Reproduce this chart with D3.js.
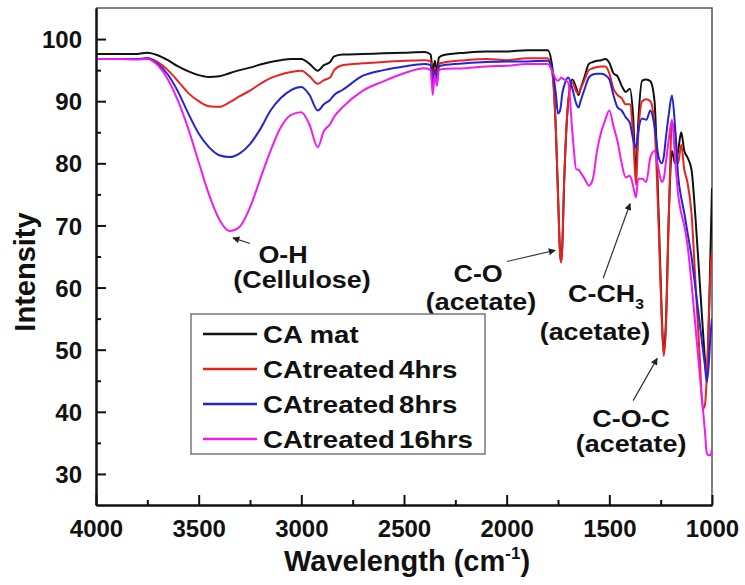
<!DOCTYPE html>
<html>
<head>
<meta charset="utf-8">
<script src="https://cdn.jsdelivr.net/npm/d3@7"></script>
<style>
  body { margin: 0; background: #fff; }
  svg text { font-family: "Liberation Sans", Arial, sans-serif; font-weight: bold; fill: #111; }
</style>
</head>
<body>
<div class="container"></div>
<script>
// FTIR spectra, wavenumber grid shared by all four samples
const wavenumbers = [4000, 3900, 3800, 3750, 3700, 3650, 3600, 3550, 3500, 3450, 3400, 3350, 3300, 3250, 3200, 3150, 3100, 3050, 3000, 2960, 2920, 2890, 2860, 2840, 2800, 2700, 2600, 2500, 2400, 2370, 2360, 2350, 2340, 2330, 2310, 2200, 2100, 2000, 1900, 1800, 1780, 1760, 1750, 1740, 1735, 1730, 1720, 1700, 1680, 1660, 1650, 1640, 1620, 1600, 1580, 1560, 1540, 1520, 1500, 1480, 1460, 1440, 1420, 1400, 1385, 1370, 1360, 1340, 1320, 1300, 1280, 1260, 1245, 1235, 1225, 1210, 1195, 1180, 1165, 1150, 1135, 1120, 1100, 1080, 1060, 1045, 1035, 1025, 1015, 1008, 1000];

const caMat = [97.6, 97.6, 97.6, 97.8, 97.4, 96.6, 95.6, 94.8, 94.2, 93.9, 94.0, 94.5, 95.0, 95.4, 95.9, 96.3, 96.6, 96.8, 96.8, 96.0, 94.9, 95.8, 96.3, 97.2, 97.5, 97.6, 97.7, 97.8, 97.9, 97.5, 94.5, 96.5, 94.8, 97.0, 97.4, 97.8, 98.0, 98.0, 98.2, 98.2, 96, 85, 75, 65.5, 64.2, 66, 77, 90, 93.5, 92, 91, 92, 94, 96, 96.3, 96.5, 96.6, 96.8, 96.2, 94.5, 94, 92.5, 91.5, 92, 88, 78.5, 86, 93.3, 93.5, 93.2, 90, 72, 56, 49.5, 54, 72, 82, 80, 82, 85, 82, 81, 79, 71, 61, 53.5, 48.7, 45.5, 55, 65, 76];

const caTreated4 = [96.8, 96.8, 96.8, 96.9, 96.3, 95, 93.2, 91.3, 90, 89.2, 89.1, 89.8, 90.8, 91.7, 92.8, 93.7, 94.3, 94.7, 94.9, 94, 92.8, 93.4, 93.8, 95, 95.8, 96.1, 96.3, 96.5, 96.6, 96.4, 93, 95.5, 93.5, 96, 96.2, 96.6, 96.8, 96.6, 96.9, 96.9, 95, 85, 75, 65.5, 64, 66, 77, 90, 93, 91.5, 91.3, 92, 93.5, 95, 95.3, 95.5, 95.6, 95.6, 94.5, 92, 91, 90.5, 89.5, 89.5, 85, 76.5, 84, 90, 90.3, 90, 86, 70, 55, 49, 53, 72, 86.5, 85, 80, 83, 79, 77, 72, 60.5, 49, 40.5, 41, 46, 56, 62, 66];

const caTreated8 = [96.8, 96.8, 96.8, 96.9, 96, 94.3, 91.5, 88, 84.8, 82.6, 81.3, 81, 81.6, 83.1, 85.5, 88.5, 90.5, 91.8, 92.3, 91, 88.5, 89.5, 90.2, 91, 91.8, 94.1, 95, 95.6, 96, 95.8, 92.2, 95, 93, 95.6, 95.8, 96.1, 96.3, 96.4, 96.4, 96.5, 95.5, 91, 88, 88.5, 89.5, 91, 92.5, 93.8, 92, 89.5, 89, 90, 92, 93.8, 94.3, 94.4, 94.4, 94.2, 93.5, 91, 89, 88.5, 87.4, 86.5, 84, 82.5, 85, 87.2, 87, 88.5, 86, 81, 80, 81, 84, 88, 90.9, 86, 78, 74.5, 72, 69, 65, 59.7, 54.3, 50.2, 47.6, 44.8, 48, 52, 55];

const caTreated16 = [96.8, 96.8, 96.7, 96.8, 95.8, 93.5, 90, 85.5, 80.2, 75, 71, 69.1, 69.8, 72.9, 77.5, 82, 85.8, 87.8, 88.2, 86.2, 82.6, 85.2, 86.3, 87.5, 89, 91.7, 93.2, 94.5, 95.3, 95, 91, 94.2, 92.5, 95, 95.2, 95.3, 95.6, 95.7, 96.0, 96.0, 95, 93.5, 93.3, 93.6, 93.8, 93.7, 93.5, 93, 85, 79, 79, 78.5, 77.5, 76.4, 77.5, 82, 85, 87, 88.5, 86, 83.5, 80, 77.7, 78, 76.5, 74.5, 77.5, 77.5, 77, 81, 82, 79, 77, 77.5, 80, 84, 87, 81, 75, 72, 70, 67, 60.8, 53.5, 46.2, 40.7, 37.1, 33.3, 33, 33, 34];

const seriesNames = ["CA mat", "CAtreated 4hrs", "CAtreated 8hrs", "CAtreated 16hrs"];
const seriesColors = ["#111111", "#e8231f", "#2424d6", "#f01cf0"];

const xTicks = [4000, 3500, 3000, 2500, 2000, 1500, 1000];
const xMinor = [3750, 3250, 2750, 2250, 1750, 1250];
const yTicks = [30, 40, 50, 60, 70, 80, 90, 100];
const yMinor = [35, 45, 55, 65, 75, 85, 95];

// band assignments: text lines, arrow tail and tip in data units (wavenumber, intensity)
const bandLabels = [["O-H", "(Cellulose)"], ["C-O", "(acetate)"], ["C-CH3", "(acetate)"], ["C-O-C", "(acetate)"]];
const bandTips = [[3333, 68.0], [1764, 66.0], [1399, 73.5], [1267, 48.6]];
const bandTails = [[3250, 67.1], [1998, 64.2], [1530, 61.5], [1384, 41.8]];
// anchor (centre, baseline) of each text line
const bandTextAt = [
  [[3089, 63.9], [2997, 59.9]],
  [[2139, 60.9], [2125, 56.4]],
  [[1516, 57.6], [1570, 51.6]],
  [[1394, 37.6], [1394, 33.5]]
];

const W = 745, H = 585;
const mLeft = 96, mRight = 712, mTop = 8, mBottom = 505;

const svg = d3.select('.container')
  .append('svg')
  .attr('width', W)
  .attr('height', H);

const x = d3.scaleLinear().domain([4000, 1000]).range([mLeft, mRight]);
const y = d3.scaleLinear().domain([25, 105]).range([mBottom, mTop]);

const defs = svg.append('defs');
defs.append('clipPath').attr('id', 'plot')
  .append('rect').attr('x', mLeft).attr('y', mTop)
  .attr('width', mRight - mLeft).attr('height', mBottom - mTop);

const marker = defs.append('marker')
  .attr('id', 'arrow').attr('viewBox', '0 0 10 10')
  .attr('refX', 9).attr('refY', 5)
  .attr('markerWidth', 9).attr('markerHeight', 7)
  .attr('markerUnits', 'userSpaceOnUse')
  .attr('orient', 'auto');
marker.append('path').attr('d', 'M0,0 L10,5 L0,10 Z').attr('fill', '#222');

// frame top / right
svg.append('path')
  .attr('d', `M${mLeft},${mTop}H${mRight}V${mBottom}`)
  .attr('fill', 'none').attr('stroke', '#555').attr('stroke-width', 1.5);

// spectra
const series = [caMat, caTreated4, caTreated8, caTreated16];
const line = d3.line()
  .x(d => x(d[0]))
  .y(d => y(d[1]))
  .curve(d3.curveMonotoneX);

svg.append('g').attr('clip-path', 'url(#plot)')
  .selectAll('path')
  .data(series)
  .enter()
  .append('path')
  .attr('d', vals => line(wavenumbers.map((w, i) => [w, vals[i]])))
  .attr('fill', 'none')
  .attr('stroke', (d, i) => seriesColors[i])
  .attr('stroke-width', 2)
  .attr('stroke-linejoin', 'round');

// axes, ticks pointing inwards
const xAxis = svg.append('g')
  .attr('transform', `translate(0,${mBottom})`)
  .call(d3.axisBottom(x).tickValues(xTicks).tickSizeInner(-10).tickSizeOuter(0).tickFormat(d3.format('d')));
xAxis.selectAll('text').attr('y', 32).attr('dy', 0).style('font-size', '24px');

svg.append('g')
  .attr('transform', `translate(0,${mBottom})`)
  .call(d3.axisBottom(x).tickValues(xMinor).tickSizeInner(-5).tickSizeOuter(0).tickFormat(''));

const yAxis = svg.append('g')
  .attr('transform', `translate(${mLeft},0)`)
  .call(d3.axisLeft(y).tickValues(yTicks).tickSizeInner(-10).tickSizeOuter(0));
yAxis.selectAll('text').attr('x', -14).attr('dy', '0.36em').style('font-size', '24px');

svg.append('g')
  .attr('transform', `translate(${mLeft},0)`)
  .call(d3.axisLeft(y).tickValues(yMinor).tickSizeInner(-5).tickSizeOuter(0).tickFormat(''));

svg.selectAll('.domain').attr('stroke', '#111').attr('stroke-width', 2);
svg.selectAll('.tick line').attr('stroke', '#111').attr('stroke-width', 2);

// axis titles
svg.append('text')
  .attr('x', (mLeft + mRight) / 2 + 3)
  .attr('y', 571)
  .attr('text-anchor', 'middle')
  .style('font-size', '29px')
  .text('Wavelength (cm')
  .call(t => t.append('tspan').attr('dy', -12).style('font-size', '17px').text('-1'))
  .call(t => t.append('tspan').attr('dy', 12).text(')'));

svg.append('text')
  .attr('transform', 'translate(35,272) rotate(-90)')
  .attr('text-anchor', 'middle')
  .style('font-size', '29px')
  .text('Intensity');

// band annotations
const notes = svg.append('g');
bandLabels.forEach((lines, i) => {
  notes.append('line')
    .attr('x1', x(bandTails[i][0])).attr('y1', y(bandTails[i][1]))
    .attr('x2', x(bandTips[i][0])).attr('y2', y(bandTips[i][1]))
    .attr('stroke', '#333').attr('stroke-width', 1.2)
    .attr('marker-end', 'url(#arrow)');

  lines.forEach((s, j) => {
    const at = bandTextAt[i][j];
    const t = notes.append('text')
      .attr('transform', `translate(${x(at[0])},${y(at[1])}) scale(1.12,1)`)
      .attr('text-anchor', 'middle')
      .style('font-size', '24px');
    if (s === 'C-CH3') {
      t.text('C-CH');
      t.append('tspan').attr('dy', 7).style('font-size', '14px').text('3');
    } else {
      t.text(s);
    }
  });
});

// legend
const legend = svg.append('g').attr('id', 'legend');
legend.append('rect')
  .attr('x', 191).attr('y', 314)
  .attr('width', 294).attr('height', 140)
  .attr('fill', '#fff').attr('stroke', '#777').attr('stroke-width', 1.5);

seriesNames.forEach((name, i) => {
  const ry = 334 + i * 35;
  legend.append('line')
    .attr('x1', 203).attr('x2', 257)
    .attr('y1', ry).attr('y2', ry)
    .attr('stroke', seriesColors[i]).attr('stroke-width', 2.5);
  legend.append('text')
    .attr('transform', `translate(263,${ry + 8.5}) scale(1.15,1)`)
    .style('font-size', '24px')
    .style('word-spacing', i === 0 ? '0px' : '-3px')
    .text(name);
});
</script>
</body>
</html>
